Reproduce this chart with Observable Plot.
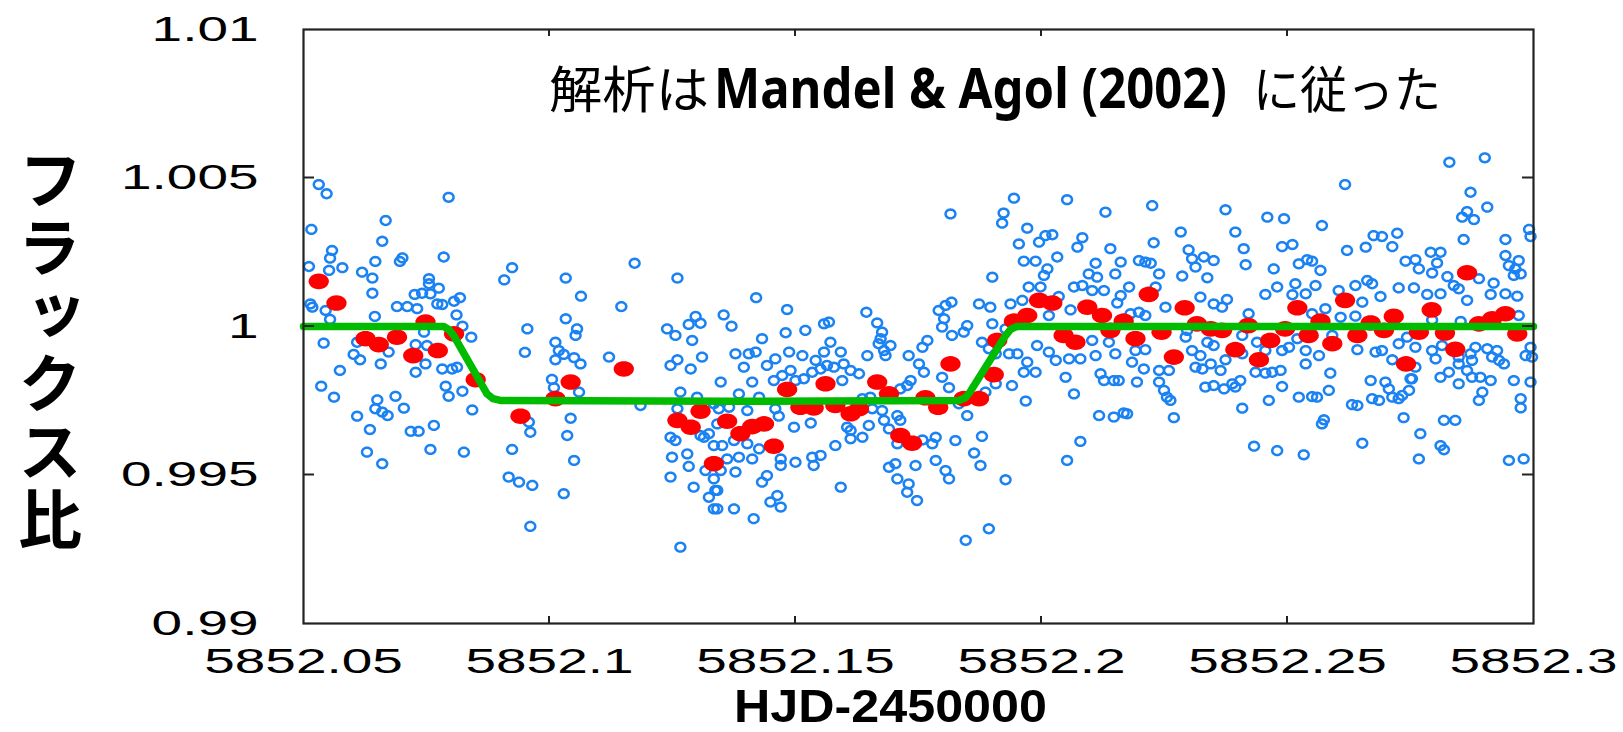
<!DOCTYPE html>
<html><head><meta charset="utf-8">
<script src="https://cdn.jsdelivr.net/npm/d3@7"></script>
<script src="https://cdn.jsdelivr.net/npm/@observablehq/plot@0.6"></script>
<style>
html,body{margin:0;padding:0;background:#fff;}
#chart{position:relative;width:1623px;height:732px;overflow:hidden;}
</style></head><body><div id="chart"></div>
<script>
const xTicks = [5852.05, 5852.1, 5852.15, 5852.2, 5852.25, 5852.3];
const xTickLabels = ["5852.05", "5852.1", "5852.15", "5852.2", "5852.25", "5852.3"];
const yTicks = [0.99, 0.995, 1, 1.005, 1.01];
const yTickLabels = ["0.99", "0.995", "1", "1.005", "1.01"];
const titleParts = ["解析は", "Mandel & Agol (2002)", "に従った"];
const yLabelText = "フラックス比";
const xLabelText = "HJD-2450000";

// transit model (green)
const modelTime = [5852.05, 5852.0785, 5852.0795, 5852.0805, 5852.0873, 5852.0885, 5852.0900, 5852.1367, 5852.1832, 5852.1845, 5852.1855, 5852.1925, 5852.1937, 5852.1950, 5852.3];
const modelFlux = [1.0, 1.0, 0.9999, 0.9997, 0.99773, 0.99757, 0.99751, 0.99748, 0.99751, 0.9976, 0.9978, 0.99965, 0.9999, 1.0, 1.0];

// individual exposures (blue) [HJD-2450000, flux ratio]
const blueSamples = [
[5852.0531,1.00478],[5852.0547,1.00447],[5852.0795,1.00435],[5852.0516,1.00327],[5852.0667,1.00357],[5852.0660,1.00287],[5852.0558,1.00256],[5852.0554,1.00230],[5852.0701,1.00231],[5852.0696,1.00219],[5852.0785,1.00234],[5852.0646,1.00219],[5852.0511,1.00202],[5852.0579,1.00198],[5852.0552,1.00189],[5852.0924,1.00198],[5852.0619,1.00183],[5852.0640,1.00163],[5852.0908,1.00157],[5852.1033,1.00163],[5852.1260,1.00163],[5852.1173,1.00213],[5852.0755,1.00161],[5852.0755,1.00144],[5852.0775,1.00129],[5852.0726,1.00108],[5852.0741,1.00112],[5852.0758,1.00110],[5852.0640,1.00112],[5852.0818,1.00097],[5852.0806,1.00085],[5852.0772,1.00076],[5852.0782,1.00074],[5852.0514,1.00076],[5852.0518,1.00065],[5852.0545,1.00054],[5852.0690,1.00067],[5852.0711,1.00067],[5852.0731,1.00060],[5852.1064,1.00102],[5852.1146,1.00067],[5852.0645,1.00034],[5852.0811,1.00039],[5852.0554,1.00024],[5852.1033,1.00026],[5852.1297,1.00034],[5852.1283,1.00007],[5852.1307,1.00011],[5852.1239,0.99992],[5852.1256,0.99970],[5852.0955,0.99992],[5852.1056,0.99992],[5852.1053,0.99970],[5852.0823,1.00001],[5852.0841,0.99964],[5852.0745,0.99981],[5852.0609,0.99947],[5852.0728,0.99939],[5852.0751,0.99936],[5852.0541,0.99944],[5852.1012,0.99947],[5852.1019,0.99919],[5852.1029,0.99906],[5852.1012,0.99888],[5852.1050,0.99895],[5852.1063,0.99874],[5852.0950,0.99913],[5852.1121,0.99897],[5852.1290,0.99953],[5852.1260,0.99888],[5852.1246,0.99869],[5852.1287,0.99857],[5852.1310,0.99897],[5852.0602,0.99906],[5852.0615,0.99888],[5852.0657,0.99874],[5852.0673,0.99914],[5852.0574,0.99852],[5852.0728,0.99846],[5852.0748,0.99874],[5852.0782,0.99857],[5852.0802,0.99857],[5852.0812,0.99863],[5852.0536,0.99799],[5852.0562,0.99762],[5852.0789,0.99799],[5852.0795,0.99765],[5852.0823,0.99782],[5852.0650,0.99753],[5852.0687,0.99765],[5852.0704,0.99725],[5852.0646,0.99723],[5852.0660,0.99712],[5852.0671,0.99700],[5852.0609,0.99698],[5852.0635,0.99653],[5852.0718,0.99647],[5852.0734,0.99647],[5852.0765,0.99667],[5852.0843,0.99719],[5852.1005,0.99822],[5852.1009,0.99794],[5852.1060,0.99779],[5852.1185,0.99734],[5852.1266,0.99779],[5852.1300,0.99762],[5852.1043,0.99691],[5852.1036,0.99633],[5852.0961,0.99644],[5852.0958,0.99678],[5852.0924,0.99586],[5852.1050,0.99549],[5852.0629,0.99577],[5852.0660,0.99538],[5852.0758,0.99586],[5852.0826,0.99577],[5852.0917,0.99493],[5852.0938,0.99476],[5852.0965,0.99465],[5852.1029,0.99437],[5852.0961,0.99327],[5852.1266,0.99257],[5852.1246,0.99493],[5852.1293,0.99459],[5852.1334,0.99386],[5852.1324,0.99425],[5852.1337,0.99448],[5852.1249,0.99560],[5852.1280,0.99571],[5852.1283,0.99529],[5852.1246,0.99627],[5852.1256,0.99616],[5852.1314,0.99627],[5852.1334,0.99599],[5852.1317,0.99515],[5852.1334,0.99487],[5852.1260,0.99723],[5852.1334,0.99740],[5852.1307,0.99633],[5852.1324,0.99639],
[5852.1420,1.00097],[5852.1483,1.00057],[5852.1354,1.00039],[5852.1370,1.00001],[5852.1644,1.00048],[5852.1666,1.00012],[5852.1568,1.00015],[5852.1558,1.00009],[5852.1520,0.99987],[5852.1480,0.99979],[5852.1432,0.99959],[5852.1676,0.99981],[5852.1673,0.99959],[5852.1669,0.99942],[5852.1693,0.99936],[5852.1680,0.99919],[5852.1683,0.99902],[5852.1646,0.99902],[5852.1768,0.99953],[5852.1758,0.99930],[5852.1805,1.00071],[5852.1817,1.00082],[5852.1791,1.00054],[5852.1802,1.00026],[5852.1798,0.99998],[5852.1818,0.99970],[5852.1842,0.99981],[5852.1849,1.00003],[5852.1873,1.00076],[5852.1896,1.00065],[5852.1900,1.00166],[5852.1815,1.00379],[5852.1923,1.00382],[5852.1920,1.00348],[5852.1944,1.00432],[5852.2052,1.00427],[5852.2130,1.00385],[5852.1971,1.00331],[5852.2008,1.00306],[5852.2022,1.00309],[5852.1995,1.00284],[5852.1954,1.00278],[5852.2083,1.00299],[5852.2073,1.00267],[5852.2140,1.00262],[5852.2032,1.00234],[5852.1964,1.00220],[5852.1988,1.00220],[5852.2012,1.00194],[5852.2005,1.00172],[5852.2110,1.00213],[5852.2096,1.00177],[5852.2113,1.00166],[5852.2150,1.00177],[5852.2161,1.00217],[5852.1974,1.00133],[5852.1998,1.00133],[5852.2035,1.00101],[5852.2083,1.00138],[5852.2066,1.00133],[5852.2103,1.00121],[5852.2127,1.00121],[5852.2161,1.00104],[5852.2154,1.00079],[5852.2059,1.00056],[5852.2015,1.00037],[5852.1937,1.00076],[5852.1961,1.00088],[5852.1900,1.00009],[5852.1927,0.99992],[5852.1879,0.99947],[5852.1893,0.99925],[5852.1907,0.99908],[5852.1934,0.99908],[5852.1951,0.99908],[5852.1971,0.99880],[5852.1988,0.99846],[5852.1964,0.99846],[5852.1940,0.99801],[5852.1907,0.99807],[5852.1886,0.99779],[5852.1968,0.99749],[5852.2049,0.99829],[5852.2066,0.99773],[5852.2120,0.99841],[5852.2127,0.99818],[5852.2147,0.99818],[5852.2157,0.99818],[5852.2015,0.99914],[5852.2029,0.99886],[5852.2056,0.99891],[5852.2079,0.99891],[5852.2110,0.99902],[5852.2150,0.99908],[5852.2103,0.99953],[5852.2137,0.99947],[5852.1991,0.99936],[5852.2117,0.99700],[5852.2147,0.99695],[5852.2167,0.99709],[5852.2079,0.99613],[5852.2052,0.99549],[5852.1879,0.99630],[5852.1863,0.99574],[5852.1876,0.99532],[5852.1927,0.99484],[5852.1893,0.99319],[5852.1846,0.99280],[5852.1825,0.99616],[5852.1849,0.99700],[5852.1832,0.99740],[5852.1812,0.99794],[5852.1798,0.99829],[5852.1761,0.99846],[5852.1751,0.99874],[5852.1730,0.99902],[5852.1734,0.99818],[5852.1727,0.99801],[5852.1713,0.99790],[5852.1707,0.99700],[5852.1713,0.99684],[5852.1690,0.99655],[5852.1707,0.99605],[5852.1758,0.99618],[5852.1778,0.99605],[5852.1785,0.99627],[5852.1785,0.99549],[5852.1805,0.99515],[5852.1812,0.99487],[5852.1744,0.99532],[5852.1730,0.99470],[5852.1727,0.99442],[5852.1747,0.99414],[5852.1707,0.99487],[5852.1690,0.99526],[5852.1703,0.99538],[5852.1592,0.99459],[5852.1581,0.99599],[5852.1612,0.99622],[5852.1636,0.99627],[5852.1612,0.99650],[5852.1605,0.99661],[5852.1649,0.99667],[5852.1680,0.99684],[5852.1656,0.99723],[5852.1676,0.99717],[5852.1636,0.99757],[5852.1652,0.99762],[5852.1629,0.99841],[5852.1612,0.99852],[5852.1598,0.99874],[5852.1592,0.99914],[5852.1571,0.99947],[5852.1558,0.99914],[5852.1541,0.99886],[5852.1514,0.99902],[5852.1487,0.99914],[5852.1459,0.99891],[5852.1442,0.99869],[5852.1419,0.99914],[5852.1395,0.99863],[5852.1378,0.99908],[5852.1405,0.99908],[5852.1412,0.99813],[5852.1348,0.99813],[5852.1456,0.99818],[5852.1473,0.99835],[5852.1490,0.99852],[5852.1500,0.99818],[5852.1517,0.99824],[5852.1534,0.99846],[5852.1551,0.99857],[5852.1564,0.99869],[5852.1578,0.99863],[5852.1595,0.99818],[5852.1385,0.99773],[5852.1426,0.99762],[5852.1459,0.99723],[5852.1402,0.99717],[5852.1365,0.99728],[5852.1344,0.99723],[5852.1341,0.99672],[5852.1351,0.99599],[5852.1375,0.99616],[5852.1402,0.99605],[5852.1426,0.99588],[5852.1412,0.99554],[5852.1385,0.99560],[5852.1361,0.99554],[5852.1348,0.99515],[5852.1378,0.99510],[5852.1432,0.99476],[5852.1442,0.99498],[5852.1463,0.99431],[5852.1449,0.99409],[5852.1470,0.99392],[5852.1415,0.99353],[5852.1375,0.99386],[5852.1341,0.99386],[5852.1341,0.99448],[5852.1470,0.99554],[5852.1470,0.99532],[5852.1500,0.99543],[5852.1537,0.99532],[5852.1534,0.99560],[5852.1551,0.99566],[5852.1497,0.99661],[5852.1531,0.99675],[5852.1466,0.99698],
[5852.2225,1.00407],[5852.2374,1.00393],[5852.2459,1.00368],[5852.2493,1.00363],[5852.2570,1.00340],[5852.2617,1.00478],[5852.2829,1.00553],[5852.2901,1.00568],[5852.2872,1.00452],[5852.2906,1.00402],[5852.2865,1.00387],[5852.2855,1.00368],[5852.2879,1.00360],[5852.2858,1.00293],[5852.2943,1.00293],[5852.2991,1.00327],[5852.2994,1.00303],[5852.2283,1.00318],[5852.2394,1.00318],[5852.2228,1.00282],[5852.2299,1.00258],[5852.2330,1.00234],[5852.2306,1.00228],[5852.2350,1.00222],[5852.2198,1.00222],[5852.2211,1.00217],[5852.2222,1.00213],[5852.2411,1.00262],[5852.2415,1.00208],[5852.2489,1.00269],[5852.2510,1.00276],[5852.2621,1.00256],[5852.2659,1.00267],[5852.2675,1.00306],[5852.2692,1.00303],[5852.2723,1.00314],[5852.2713,1.00269],[5852.2313,1.00200],[5852.2239,1.00177],[5852.2286,1.00170],[5852.2337,1.00164],[5852.2472,1.00194],[5852.2523,1.00211],[5852.2540,1.00225],[5852.2550,1.00220],[5852.2567,1.00189],[5852.2740,1.00220],[5852.2760,1.00225],[5852.2804,1.00214],[5852.2791,1.00250],[5852.2811,1.00250],[5852.2767,1.00194],[5852.2794,1.00180],[5852.2825,1.00168],[5852.2943,1.00239],[5852.2970,1.00222],[5852.2950,1.00205],[5852.2963,1.00194],[5852.2974,1.00177],[5852.2960,1.00172],[5852.2178,1.00133],[5852.2232,1.00133],[5852.2323,1.00099],[5852.2377,1.00091],[5852.2455,1.00108],[5852.2479,1.00133],[5852.2510,1.00107],[5852.2516,1.00144],[5852.2537,1.00110],[5852.2557,1.00138],[5852.2604,1.00121],[5852.2638,1.00138],[5852.2662,1.00155],[5852.2672,1.00144],[5852.2689,1.00101],[5852.2726,1.00130],[5852.2757,1.00130],[5852.2784,1.00108],[5852.2811,1.00110],[5852.2838,1.00138],[5852.2848,1.00127],[5852.2889,1.00161],[5852.2919,1.00146],[5852.2913,1.00108],[5852.2943,1.00110],[5852.2967,1.00102],[5852.2865,1.00088],[5852.2252,1.00065],[5852.2350,1.00076],[5852.2367,1.00065],[5852.2577,1.00060],[5852.2652,1.00082],[5852.2211,1.00037],[5852.2198,1.00048],[5852.2181,1.00043],[5852.2421,1.00043],[5852.2550,1.00043],[5852.2608,1.00031],[5852.2638,1.00035],[5852.2852,1.00017],[5852.2794,1.00022],[5852.2970,1.00037],[5852.2191,0.99919],[5852.2211,0.99922],[5852.2184,0.99880],[5852.2208,0.99857],[5852.2239,0.99852],[5852.2259,0.99852],[5852.2306,0.99919],[5852.2323,0.99902],[5852.2313,0.99863],[5852.2327,0.99857],[5852.2344,0.99874],[5852.2364,0.99852],[5852.2374,0.99888],[5852.2293,0.99964],[5852.2296,0.99987],[5852.2337,0.99947],[5852.2350,0.99936],[5852.2408,0.99908],[5852.2408,0.99970],[5852.2438,0.99947],[5852.2455,0.99919],[5852.2489,0.99919],[5852.2503,0.99930],[5852.2520,0.99959],[5852.2537,0.99919],[5852.2564,0.99902],[5852.2591,0.99970],[5852.2642,0.99922],[5852.2679,0.99914],[5852.2692,0.99919],[5852.2713,0.99888],[5852.2726,0.99942],[5852.2743,0.99964],[5852.2760,0.99930],[5852.2794,0.99919],[5852.2801,0.99891],[5852.2814,0.99936],[5852.2848,0.99897],[5852.2872,0.99908],[5852.2882,0.99930],[5852.2906,0.99925],[5852.2926,0.99919],[5852.2930,0.99886],[5852.2940,0.99874],[5852.2984,0.99902],[5852.2994,0.99930],[5852.2848,0.99874],[5852.2865,0.99852],[5852.2828,0.99846],[5852.2811,0.99829],[5852.2760,0.99863],[5852.2753,0.99824],[5852.2194,0.99813],[5852.2239,0.99813],[5852.2249,0.99785],[5852.2255,0.99762],[5852.2262,0.99751],[5852.2269,0.99693],[5852.2174,0.99706],[5852.2333,0.99796],[5852.2350,0.99801],[5852.2371,0.99790],[5852.2388,0.99807],[5852.2404,0.99818],[5852.2394,0.99796],[5852.2435,0.99846],[5852.2455,0.99843],[5852.2469,0.99846],[5852.2486,0.99852],[5852.2489,0.99798],[5852.2462,0.99751],[5852.2523,0.99762],[5852.2550,0.99764],[5852.2560,0.99762],[5852.2584,0.99785],[5852.2587,0.99843],[5852.2537,0.99874],[5852.2669,0.99818],[5852.2699,0.99813],[5852.2706,0.99790],[5852.2713,0.99762],[5852.2726,0.99757],[5852.2733,0.99768],[5852.2747,0.99785],[5852.2750,0.99824],[5852.2686,0.99751],[5852.2672,0.99757],[5852.2642,0.99734],[5852.2631,0.99737],[5852.2736,0.99693],[5852.2770,0.99639],[5852.2848,0.99807],[5852.2875,0.99829],[5852.2892,0.99829],[5852.2913,0.99818],[5852.2896,0.99779],[5852.2889,0.99751],[5852.2960,0.99818],[5852.2994,0.99813],[5852.2974,0.99757],[5852.2974,0.99726],[5852.2818,0.99684],[5852.2841,0.99684],[5852.2574,0.99686],[5852.2570,0.99672],[5852.2652,0.99607],[5852.2767,0.99554],[5852.2811,0.99599],[5852.2818,0.99585],[5852.2950,0.99549],[5852.2980,0.99554],[5852.2432,0.99597],[5852.2479,0.99582],[5852.2533,0.99568],[5852.2408,0.99725],[5852.2997,0.99897],[5852.2875,0.99886],[5852.2916,0.99897]
];

// binned points (red) [HJD-2450000, flux ratio]
const redSamples = [
[5852.0531,1.00152],[5852.0567,1.00079],[5852.0748,1.00015],[5852.0626,0.99959],[5852.0653,0.99939],[5852.0690,0.99964],[5852.0723,0.99902],[5852.0773,0.99919],[5852.0806,0.99975],[5852.0850,0.99821],[5852.0941,0.99698],[5852.1043,0.99813],[5852.1012,0.99757],[5852.1151,0.99857],[5852.1260,0.99684],[5852.1287,0.99661],[5852.1307,0.99715],[5852.1334,0.99538],
[5852.1361,0.99681],[5852.1388,0.99639],[5852.1412,0.99663],[5852.1436,0.99672],[5852.1456,0.99597],[5852.1483,0.99788],[5852.1510,0.99728],[5852.1537,0.99726],[5852.1561,0.99807],[5852.1581,0.99734],[5852.1612,0.99706],[5852.1629,0.99723],[5852.1666,0.99813],[5852.1690,0.99773],[5852.1713,0.99633],[5852.1737,0.99607],[5852.1764,0.99760],[5852.1790,0.99728],[5852.1815,0.99874],[5852.1842,0.99757],[5852.1873,0.99757],[5852.1903,0.99838],[5852.1910,0.99953],[5852.1944,1.00018],[5852.1971,1.00037],[5852.1995,1.00088],[5852.2022,1.00079],[5852.2045,0.99970],[5852.2069,0.99947],[5852.2093,1.00065],[5852.2123,1.00037],[5852.2140,0.99987],[5852.2167,1.00018],
[5852.2191,0.99959],[5852.2218,1.00108],[5852.2244,0.99981],[5852.2269,0.99897],[5852.2291,1.00063],[5852.2316,1.00009],[5852.2344,0.99992],[5852.2367,0.99987],[5852.2394,0.99922],[5852.2420,1.00003],[5852.2442,0.99888],[5852.2465,0.99953],[5852.2495,0.99992],[5852.2520,1.00063],[5852.2543,0.99970],[5852.2567,1.00018],[5852.2591,0.99942],[5852.2617,1.00088],[5852.2642,0.99970],[5852.2669,1.00012],[5852.2696,0.99987],[5852.2716,1.00034],[5852.2741,0.99874],[5852.2767,0.99981],[5852.2793,1.00056],[5852.2820,0.99978],[5852.2841,0.99923],[5852.2865,1.00181],[5852.2889,1.00009],[5852.2916,1.00026],[5852.2943,1.00043],[5852.2967,0.99975]
];

const xLabelMap = new Map(xTicks.map((v, i) => [v, xTickLabels[i]]));
const yLabelMap = new Map(yTicks.map((v, i) => [v, yTickLabels[i]]));
const model = modelTime.map((t, i) => ({t, f: modelFlux[i]}));

function ellipseSymbol(ratio) {
  return {draw(ctx, size) {
    const r = Math.sqrt(size / Math.PI), n = 28;
    for (let k = 0; k < n; ++k) {
      const a = 2 * Math.PI * k / n, px = r * ratio * Math.cos(a), py = r * Math.sin(a);
      if (k === 0) ctx.moveTo(px, py); else ctx.lineTo(px, py);
    }
    ctx.closePath();
  }};
}

const plot = Plot.plot({
  width: 1623, height: 732,
  marginLeft: 303, marginRight: 90, marginTop: 29, marginBottom: 109,
  style: {fontFamily: "'Liberation Sans', Arial, sans-serif", fontSize: "35px", color: "#000", background: "#fff"},
  x: {domain: [5852.05, 5852.3], ticks: xTicks, tickSize: 0, tickPadding: 25, tickFormat: d => xLabelMap.get(d), label: null},
  y: {domain: [0.99, 1.01], ticks: yTicks, tickSize: 0, tickPadding: 45, tickFormat: d => yLabelMap.get(d), label: null},
  marks: [
    Plot.dot(blueSamples, {x: d => d[0], y: d => d[1], symbol: ellipseSymbol(1.12), r: 4.4, fill: "none", stroke: "#1a82f2", strokeWidth: 2.5}),
    Plot.dot(redSamples, {x: d => d[0], y: d => d[1], symbol: ellipseSymbol(1.3), r: 7.8, fill: "#ff0000", stroke: "none"}),
    Plot.line(model, {x: "t", y: "f", stroke: "#00bb00", strokeWidth: 7.5, strokeLinejoin: "round"}),
    Plot.frame({stroke: "#222", strokeWidth: 2.2})
  ]
});
document.getElementById("chart").appendChild(plot);

const svg = d3.select(plot);
// horizontally stretched tick labels, as in the reference
svg.selectAll('g[aria-label^="x-axis"] text, g[aria-label^="y-axis"] text').each(function() {
  const ax = +(this.getAttribute("x") || 0);
  const t = this.getAttribute("transform") || "";
  this.setAttribute("transform", `${t} translate(${ax},0) scale(1.57,1) translate(${-ax},0)`);
});

// inward ticks on all four sides
const sx = plot.scale("x"), sy = plot.scale("y");
const yb = sy.apply(0.99), yt = sy.apply(1.01), xl = sx.apply(5852.05), xr = sx.apply(5852.3);
const tg = svg.append("g").attr("stroke", "#222").attr("stroke-width", 2);
xTicks.slice(1, -1).forEach(v => {
  const X = sx.apply(v);
  tg.append("line").attr("x1", X).attr("x2", X).attr("y1", yb).attr("y2", yb - 7);
  tg.append("line").attr("x1", X).attr("x2", X).attr("y1", yt).attr("y2", yt + 7);
});
yTicks.slice(1, -1).forEach(v => {
  const Y = sy.apply(v);
  tg.append("line").attr("y1", Y).attr("y2", Y).attr("x1", xl).attr("x2", xl + 11);
  tg.append("line").attr("y1", Y).attr("y2", Y).attr("x1", xr).attr("x2", xr - 11);
});

// helper: place a text at (x, y) and scale it horizontally to a given width
function fitText(sel, x, y, width) {
  const natural = sel.node().getComputedTextLength();
  sel.attr("x", 0).attr("y", 0).attr("transform", `translate(${x},${y}) scale(${width / natural},1)`);
  return sel;
}

// title inside the plot
const tt = svg.append("g").attr("fill", "#000").attr("text-anchor", "start");
fitText(tt.append("text").attr("font-family", "'Noto Sans CJK JP', sans-serif").attr("font-size", 50).text(titleParts[0]), 549, 108, 160);
fitText(tt.append("text").attr("font-family", "'Noto Sans', 'Open Sans', sans-serif").attr("font-weight", 700).attr("font-size", 56).text(titleParts[1]), 714, 108, 513);
fitText(tt.append("text").attr("font-family", "'Noto Sans CJK JP', sans-serif").attr("font-size", 50).text(titleParts[2]), 1253, 108, 188);

// vertical y-axis label (one text, vertical writing, centred on its column)
svg.append("text").attr("fill", "#000").attr("x", 50).attr("y", 351).attr("text-anchor", "middle")
  .attr("font-family", "'Noto Sans CJK JP', sans-serif").attr("font-weight", 700).attr("font-size", 64)
  .style("writing-mode", "vertical-rl").style("text-orientation", "upright").style("letter-spacing", "4px")
  .text(yLabelText);

// x-axis label
const xl2 = svg.append("g").attr("fill", "#000").attr("text-anchor", "start");
fitText(xl2.append("text").attr("font-family", "'Liberation Sans', Arial, sans-serif").attr("font-weight", 700).attr("font-size", 46).text(xLabelText), 734, 722, 313);
</script>
</body></html>
